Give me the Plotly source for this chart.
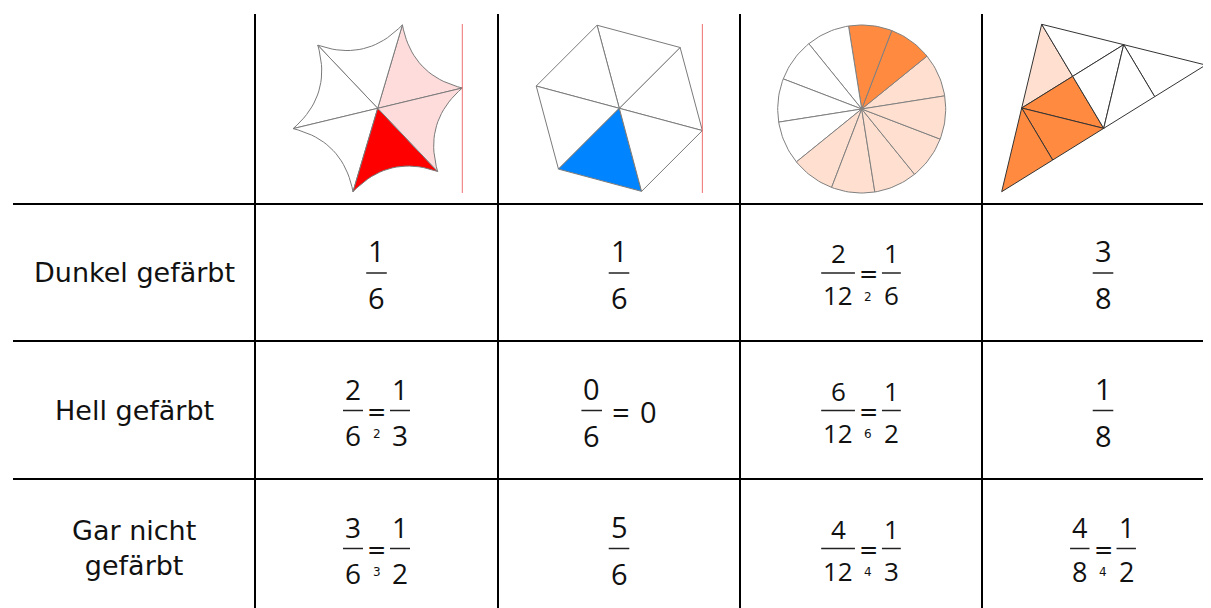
import math

import plotly.graph_objects as go

# table content
row_labels = ["Dunkel gefärbt", "Hell gefärbt", "Gar nicht<br>gefärbt"]
cells = [
    ["1/6", "1/6", "2/12 =2 1/6", "3/8"],
    ["2/6 =2 1/3", "0/6 = 0", "6/12 =6 1/2", "1/8"],
    ["3/6 =3 1/2", "5/6", "4/12 =4 1/3", "4/8 =4 1/2"],
]
# which part of each figure is dark (D), light (L) or blank (W)
star_parts = ["L", "W", "W", "W", "D", "L"]
hexagon_parts = ["W", "W", "W", "W", "D", "W"]
circle_parts = ["L", "D", "D", "W", "W", "W", "W", "L", "L", "L", "L", "L"]
triangle_parts = ["L", "W", "D", "W", "W", "W", "D", "D"]

# layout of the grid (pixels)
W, H = 1211, 608
OFF = 8  # the page body margin
col_edges = [13, 255, 498, 740, 982, 1224]
row_edges = [14, 204, 341, 479, 617]
cell_fs = [[29, 29, 26, 29], [28, 29, 26, 29], [28, 29, 26, 27]]

RED, PINK = "#FF0000", "#FFDCDC"
BLUE = "#0084FF"
ORANGE, PEACH = "#FF8A40", "#FFE0D0"
EDGE = "#7a7a7a"

fig = go.Figure()
shapes = []
annotations = []


def polar(cx, cy, r, deg):
    a = math.radians(deg)
    return cx + r * math.cos(a), cy - r * math.sin(a)


def add_poly(xs, ys, fill, line_color=EDGE, width=1):
    fig.add_trace(
        go.Scatter(
            x=list(xs) + [xs[0]],
            y=list(ys) + [ys[0]],
            mode="lines",
            fill="toself",
            fillcolor=fill,
            line=dict(color=line_color, width=width),
            hoverinfo="skip",
            showlegend=False,
        )
    )


def curved_star(cx, cy, r, base, sag, parts, colors):
    n = len(parts)
    verts = [polar(cx, cy, r, base + 360.0 * k / n) for k in range(n)]
    for k, p in enumerate(parts):
        p0, p1 = verts[k], verts[(k + 1) % n]
        mx, my = (p0[0] + p1[0]) / 2, (p0[1] + p1[1]) / 2
        dx, dy = cx - mx, cy - my
        d = math.hypot(dx, dy)
        kx, ky = mx + dx / d * 2 * sag, my + dy / d * 2 * sag
        xs, ys = [cx], [cy]
        for i in range(21):
            t = i / 20.0
            xs.append((1 - t) ** 2 * p0[0] + 2 * t * (1 - t) * kx + t * t * p1[0])
            ys.append((1 - t) ** 2 * p0[1] + 2 * t * (1 - t) * ky + t * t * p1[1])
        add_poly(xs, ys, colors[p])
    return max(v[0] for v in verts)


def polygon_fan(cx, cy, r, base, parts, colors):
    n = len(parts)
    verts = [polar(cx, cy, r, base + 360.0 * k / n) for k in range(n)]
    for k, p in enumerate(parts):
        p0, p1 = verts[k], verts[(k + 1) % n]
        add_poly([cx, p0[0], p1[0]], [cy, p0[1], p1[1]], colors[p])
    return max(v[0] for v in verts)


def pie(cx, cy, r, base, parts, colors):
    n = len(parts)
    step = 360.0 / n
    for k, p in enumerate(parts):
        xs, ys = [cx], [cy]
        for i in range(16):
            x, y = polar(cx, cy, r, base + k * step + step * i / 15)
            xs.append(x)
            ys.append(y)
        add_poly(xs, ys, colors[p], line_color="#808080")


def mid(p, q):
    return ((p[0] + q[0]) / 2, (p[1] + q[1]) / 2)


def split_triangle(a, b, c, parts, colors):
    mab, mbc, mac = mid(a, b), mid(b, c), mid(a, c)
    m1 = mid(mac, mab)
    tris = [
        (a, mac, m1), (a, m1, mab),
        (mac, m1, mbc), (m1, mab, mbc),
        (mab, b, mid(b, mbc)), (mab, mid(b, mbc), mbc),
        (mac, mbc, mid(c, mbc)), (mac, mid(c, mbc), c),
    ]
    for t, p in zip(tris, parts):
        add_poly([v[0] for v in t], [v[1] for v in t], colors[p], line_color="#333333")


# figures in the header row
x_star = curved_star(377.7, 108.3, 87, 13.5, 14, star_parts, {"D": RED, "L": PINK, "W": "white"})
x_hex = polygon_fan(619.3, 108.3, 86, -15, hexagon_parts, {"D": BLUE, "L": PINK, "W": "white"})
pie(861.7, 109, 84, 9, circle_parts, {"D": ORANGE, "L": PEACH, "W": "white"})
split_triangle((1041.7, 24.3), (1205.7, 65), (1001.7, 191.7), triangle_parts,
               {"D": ORANGE, "L": PEACH, "W": "white"})
for xr in (x_star, x_hex):
    shapes.append(dict(type="line", x0=xr, x1=xr, y0=24, y1=193,
                       line=dict(color="#F07070", width=1)))

# grid
for y in row_edges[1:4]:
    shapes.append(dict(type="line", x0=col_edges[0], x1=W + OFF, y0=y, y1=y,
                       line=dict(color="black", width=2)))
for x in col_edges[1:5]:
    shapes.append(dict(type="line", x0=x, x1=x, y0=row_edges[0], y1=H + OFF,
                       line=dict(color="black", width=2)))


def text(x, y, s, size, family="Open Sans"):
    annotations.append(dict(x=x, y=y, text=s, showarrow=False, xanchor="center",
                            yanchor="middle", font=dict(family=family, size=size, color="#111")))


# row labels
for i, lab in enumerate(row_labels):
    yc = (row_edges[i + 1] + row_edges[i + 2]) / 2
    text(134, yc, lab, 27, "DejaVu Sans")


def token_width(tok, fs):
    if "/" in tok:
        n, d = tok.split("/")
        return max(len(n), len(d)) * 0.572 * fs + 4
    if tok == "=":
        return 38
    if tok.startswith("="):
        return 27
    return 0.572 * fs * len(tok)


for i, row in enumerate(cells):
    bar_y = (row_edges[i + 1] + row_edges[i + 2]) / 2 + 0.5
    for j, cell in enumerate(row):
        fs = cell_fs[i][j]
        toks = cell.split()
        widths = [token_width(t, fs) for t in toks]
        cx = (col_edges[j + 1] + col_edges[j + 2]) / 2
        x = cx - sum(widths) / 2
        for tok, w in zip(toks, widths):
            xm = x + w / 2
            if "/" in tok:
                n, d = tok.split("/")
                shapes.append(dict(type="line", x0=x, x1=x + w, y0=bar_y, y1=bar_y,
                                   line=dict(color="#222", width=1.5)))
                text(xm, bar_y - 0.76 * fs, n, fs)
                text(xm, bar_y + 0.86 * fs, d, fs)
            elif tok == "=":
                text(xm, bar_y + 1, "=", fs + 2)
            elif tok.startswith("="):
                # equals sign with the divisor written small underneath
                text(xm, bar_y + 1, "=", 23, "DejaVu Sans")
                text(xm, bar_y + 23.5, tok[1:], 12, "DejaVu Sans")
            else:
                text(xm, bar_y + 1, tok, fs)
            x += w

fig.update_layout(
    width=W,
    height=H,
    margin=dict(l=0, r=0, t=0, b=0),
    paper_bgcolor="white",
    plot_bgcolor="white",
    xaxis=dict(range=[OFF, W + OFF], visible=False, fixedrange=True),
    yaxis=dict(range=[H + OFF, OFF], visible=False, fixedrange=True),
    shapes=shapes,
    annotations=annotations,
    showlegend=False,
)
fig.write_html("out.html", config={"displayModeBar": False})
